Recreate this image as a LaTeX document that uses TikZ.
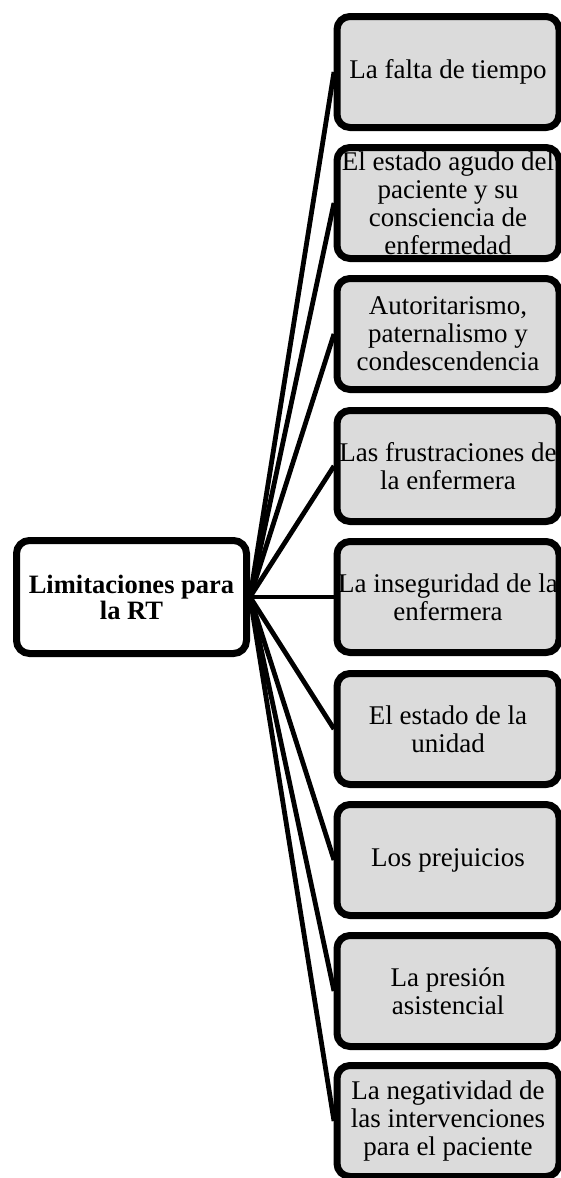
\documentclass[tikz,border=0pt]{standalone}
\usepackage{fontspec}
\setmainfont{Liberation Serif}
\usetikzlibrary{shadows}
\begin{document}
\begin{tikzpicture}[x=1pt,y=-1pt,
  leaf/.style={draw=black,line width=7pt,rounded corners=13pt,fill=gray!28,
    minimum width=222pt,minimum height=111pt,align=center,inner sep=0pt,
    font=\fontsize{27}{28}\selectfont,
    drop shadow={shadow xshift=2pt,shadow yshift=-3pt,opacity=0.25,fill=black}},
  hubbox/.style={draw=black,line width=7pt,rounded corners=13pt,fill=white,
    minimum width=230pt,minimum height=113pt,align=center,inner sep=0pt,
    font=\fontsize{26.5}{26}\selectfont\bfseries},
  link/.style={line width=4.8pt}]
\useasboundingbox (0,0) rectangle (560,1178);
\node[hubbox,drop shadow={shadow xshift=2pt,shadow yshift=-3pt,opacity=0.25,fill=black}] (hub) at (131.5,597) {Limitaciones para\\la RT};
\coordinate (h) at (250,597);
\coordinate (l1) at (334,72);
\coordinate (l2) at (334,203);
\coordinate (l3) at (334,334);
\coordinate (l4) at (334,466);
\coordinate (l5) at (334,597);
\coordinate (l6) at (334,729);
\coordinate (l7) at (334,860);
\coordinate (l8) at (334,991);
\coordinate (l9) at (334,1121);
\foreach \i in {1,...,9} {\draw[link] (h) -- (l\i);}
\node[leaf] (b1) at (448,72) {La falta de tiempo};
\node[leaf] (b2) at (448,203) {El estado agudo del\\paciente y su\\consciencia de\\enfermedad};
\node[leaf] (b3) at (448,334) {Autoritarismo,\\paternalismo y\\condescendencia};
\node[leaf] (b4) at (448,466) {Las frustraciones de\\la enfermera};
\node[leaf] (b5) at (448,597) {La inseguridad de la\\enfermera};
\node[leaf] (b6) at (448,729) {El estado de la\\unidad};
\node[leaf] (b7) at (448,860) {Los prejuicios};
\node[leaf] (b8) at (448,991) {La presión\\asistencial};
\node[leaf] (b9) at (448,1121) {La negatividad de\\las intervenciones\\para el paciente};
\end{tikzpicture}
\end{document}
